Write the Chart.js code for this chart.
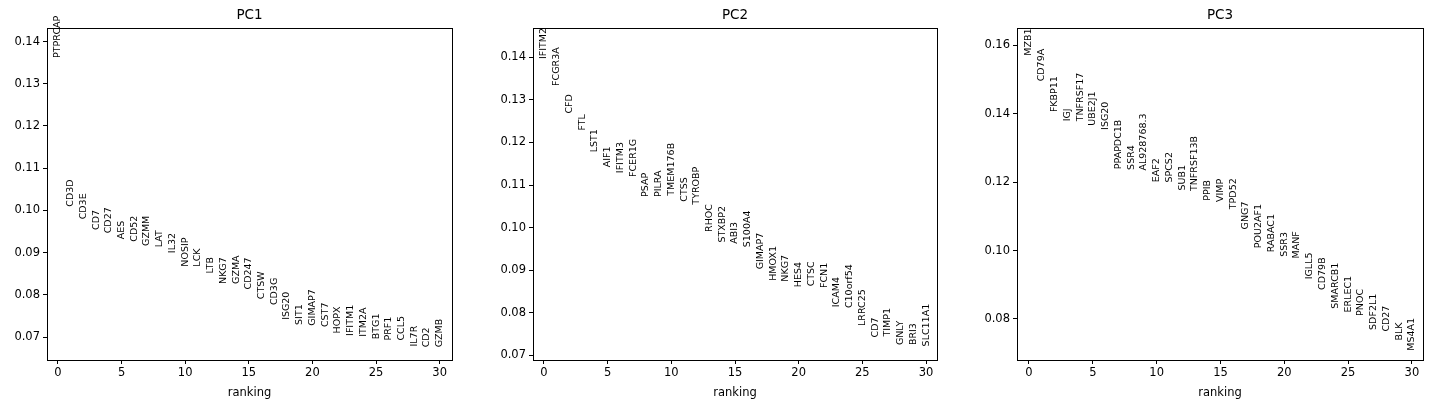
<!DOCTYPE html>
<html><head><meta charset="utf-8">
<script src="https://cdn.jsdelivr.net/npm/chart.js@4"></script>
<style>body{margin:0;background:#fff;width:1431px;height:409px;overflow:hidden;position:relative}
.p{position:absolute;top:0;height:409px}</style></head>
<body>
<div class="p" style="left:0;width:470px"><canvas id="c1"></canvas></div>
<div class="p" style="left:480px;width:475px"><canvas id="c2"></canvas></div>
<div class="p" style="left:960px;width:471px"><canvas id="c3"></canvas></div>
<script>
const pc1Genes=["PTPRCAP","CD3D","CD3E","CD7","CD27","AES","CD52","GZMM","LAT","IL32","NOSIP","LCK","LTB","NKG7","GZMA","CD247","CTSW","CD3G","ISG20","SIT1","GIMAP7","CST7","HOPX","IFITM1","ITM2A","BTG1","PRF1","CCL5","IL7R","CD2","GZMB"];
const pc1Values=[0.1361,0.1009,0.0979,0.0954,0.0946,0.0932,0.0926,0.0916,0.0913,0.0899,0.0867,0.0867,0.0851,0.0826,0.0826,0.0813,0.0790,0.0776,0.0741,0.0729,0.0727,0.0724,0.0709,0.0703,0.0701,0.0695,0.0692,0.0692,0.0678,0.0676,0.0676];
const pc2Genes=["IFITM2","FCGR3A","CFD","FTL","LST1","AIF1","IFITM3","FCER1G","PSAP","PILRA","TMEM176B","CTSS","TYROBP","RHOC","STXBP2","ABI3","S100A4","GIMAP7","HMOX1","NKG7","HES4","CTSC","FCN1","ICAM4","C10orf54","LRRC25","CD7","TIMP1","GNLY","BRI3","SLC11A1"];
const pc2Values=[0.1396,0.1333,0.1268,0.1228,0.1177,0.1142,0.1128,0.1119,0.1072,0.1072,0.1075,0.1061,0.1054,0.0990,0.0965,0.0962,0.0954,0.0902,0.0875,0.0873,0.0860,0.0862,0.0858,0.0813,0.0811,0.0769,0.0742,0.0744,0.0724,0.0724,0.0721];
const pc3Genes=["MZB1","CD79A","FKBP11","IGJ","TNFRSF17","UBE2J1","ISG20","PPAPDC1B","SSR4","AL928768.3","EAF2","SPCS2","SUB1","TNFRSF13B","PPIB","VIMP","TPD52","GNG7","POU2AF1","RABAC1","SSR3","MANF","IGLL5","CD79B","SMARCB1","ERLEC1","PNOC","SDF2L1","CD27","BLK","MS4A1"];
const pc3Values=[0.1570,0.1495,0.1405,0.1378,0.1378,0.1365,0.1353,0.1238,0.1236,0.1234,0.1200,0.1199,0.1176,0.1174,0.1146,0.1142,0.1121,0.1062,0.1007,0.0995,0.0982,0.0977,0.0916,0.0885,0.0830,0.0819,0.0809,0.0768,0.0763,0.0737,0.0707];
const xTicks=[0,5,10,15,20,25,30];
const yTicks12=[0.07,0.08,0.09,0.10,0.11,0.12,0.13,0.14];
const yTicks3=[0.08,0.10,0.12,0.14,0.16];

const F='"DejaVu Sans", sans-serif';
function make(id,title,genes,vals,yt,ymin,ymax,xmin,xmax,left,right){
  const plug={id:'lab'+id,afterDatasetsDraw(ch){
    const c=ch.ctx,xs=ch.scales.x,ys=ch.scales.y,a=ch.chartArea;
    c.save();c.strokeStyle='#000';c.lineWidth=1;
    c.strokeRect(Math.round(a.left)+0.5,Math.round(a.top)+0.5,Math.round(a.right-a.left),Math.round(a.bottom-a.top));
    c.fillStyle='#000';c.font='13.5px '+F;c.textAlign='center';c.textBaseline='alphabetic';
    c.fillText(title,(a.left+a.right)/2,a.top-9);
    c.font='9.5px '+F;c.fillStyle='#000';
    genes.forEach((g,i)=>{c.save();c.translate(xs.getPixelForValue(i),ys.getPixelForValue(vals[i]));
      c.rotate(-Math.PI/2);c.textAlign='left';c.textBaseline='middle';c.fillText(g,0,0);c.restore();});
    c.restore();}};
  new Chart(document.getElementById(id),{type:'scatter',
    data:{datasets:[{data:vals.map((v,i)=>({x:i,y:v})),pointRadius:0,showLine:false}]},
    options:{responsive:true,maintainAspectRatio:false,animation:false,
      layout:{padding:{top:28,right:right,left:0,bottom:5}},
      plugins:{legend:{display:false},tooltip:{enabled:false}},
      scales:{
        x:{type:'linear',min:xmin,max:xmax,
          afterBuildTicks:s=>{s.ticks=xTicks.map(v=>({value:v}));},
          afterFit:s=>{s.height=44;},
          grid:{drawOnChartArea:false,tickLength:4,color:'#000'},border:{color:'#000'},
          ticks:{color:'#000',font:{family:F,size:11.5},padding:2,maxRotation:0},
          title:{display:true,text:'ranking',color:'#000',font:{family:F,size:11.5},padding:{top:0}}},
        y:{min:ymin,max:ymax,
          afterBuildTicks:s=>{s.ticks=yt.map(v=>({value:v}));},
          afterFit:s=>{s.width=left;},
          grid:{drawOnChartArea:false,tickLength:4,color:'#000'},border:{color:'#000'},
          ticks:{color:'#000',font:{family:F,size:11.5},padding:3,callback:v=>v.toFixed(2)}}
      }},plugins:[plug]});
}
make('c1','PC1',pc1Genes,pc1Values,yTicks12,0.0646,0.1432,-0.86,30.97,47,18);
make('c2','PC2',pc2Genes,pc2Values,yTicks12,0.0689,0.1469,-0.86,30.86,53,18);
make('c3','PC3',pc3Genes,pc3Values,yTicks3,0.0680,0.1651,-0.94,30.87,57,8);
</script></body></html>
